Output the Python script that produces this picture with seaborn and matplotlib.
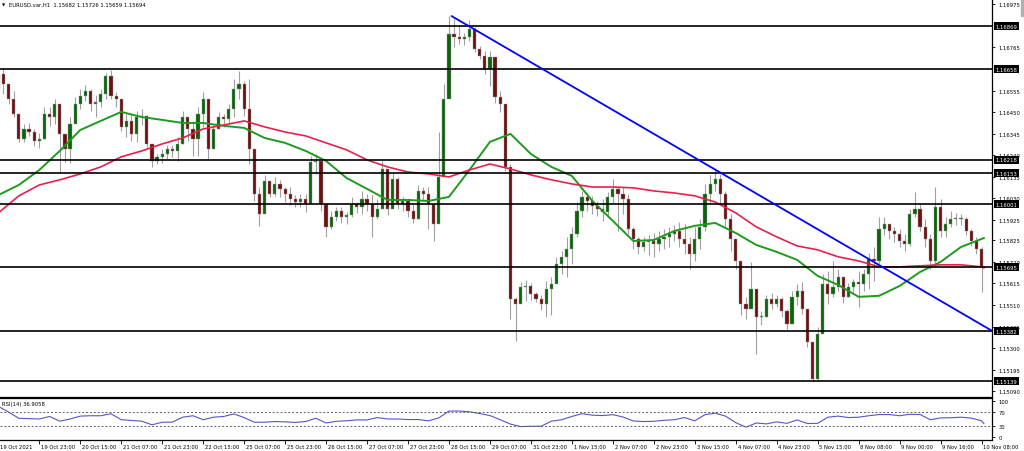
import numpy as np
import pandas as pd
import matplotlib
matplotlib.use("Agg")
import matplotlib.pyplot as plt
import matplotlib.transforms as mtransforms
from matplotlib.patches import Rectangle
import seaborn as sns

# ==========================================
# Data (EURUSD H1, drawn as 2-hour candles)
# ==========================================
first_open = 1.16563

closes = [
    1.16636, 1.16587, 1.16514, 1.16441, 1.16319, 1.16368, 1.16353, 1.16309, 1.16319, 1.16441,
    1.16426, 1.16490, 1.16344, 1.16270, 1.16392, 1.16490, 1.16529, 1.16553, 1.16490, 1.16499,
    1.16538, 1.16626, 1.16529, 1.16514, 1.16378, 1.16407, 1.16344, 1.16426, 1.16431, 1.16295,
    1.16212, 1.16232, 1.16246, 1.16270, 1.16261, 1.16295, 1.16426, 1.16368, 1.16319, 1.16441,
    1.16514, 1.16270, 1.16368, 1.16426, 1.16417, 1.16465, 1.16563, 1.16587, 1.16465, 1.16270,
    1.16051, 1.15954, 1.16115, 1.16051, 1.16100, 1.16076, 1.16051, 1.16027, 1.16012, 1.16027,
    1.16003, 1.16207, 1.16212, 1.16003, 1.15891, 1.15940, 1.15969, 1.15940, 1.15949, 1.16003,
    1.15988, 1.16027, 1.16003, 1.15940, 1.15978, 1.16173, 1.15978, 1.16125, 1.16003, 1.16017,
    1.15969, 1.15930, 1.16066, 1.16051, 1.16003, 1.15905, 1.16134, 1.16514, 1.16831, 1.16816,
    1.16806, 1.16816, 1.16855, 1.16758, 1.16725, 1.16660, 1.16719, 1.16524, 1.16490, 1.16183,
    1.15540, 1.15516, 1.15599, 1.15604, 1.15564, 1.15540, 1.15516, 1.15589, 1.15613, 1.15710,
    1.15745, 1.15784, 1.15857, 1.15969, 1.16037, 1.16017, 1.15993, 1.15978, 1.15964, 1.16037,
    1.16076, 1.16051, 1.16027, 1.15881, 1.15832, 1.15793, 1.15818, 1.15822, 1.15808, 1.15832,
    1.15842, 1.15857, 1.15871, 1.15832, 1.15808, 1.15759, 1.15832, 1.15891, 1.16051, 1.16100,
    1.16125, 1.16051, 1.15930, 1.15832, 1.15725, 1.15516, 1.15491, 1.15589, 1.15452, 1.15452,
    1.15540, 1.15516, 1.15540, 1.15481, 1.15418, 1.15550, 1.15579, 1.15491, 1.15331, 1.15151,
    1.15370, 1.15613, 1.15564, 1.15599, 1.15647, 1.15550, 1.15599, 1.15623, 1.15613, 1.15662,
    1.15735, 1.15725, 1.15881, 1.15905, 1.15871, 1.15857, 1.15822, 1.15808, 1.15954, 1.15978,
    1.15891, 1.15832, 1.15725, 1.15988, 1.15871, 1.15905, 1.15930, 1.15930, 1.15930, 1.15871,
    1.15822, 1.15784, 1.15694,
]

highs = [
    1.16670, 1.16660, 1.16587, 1.16553, 1.16441, 1.16392, 1.16397, 1.16368, 1.16348, 1.16475,
    1.16475, 1.16514, 1.16456, 1.16334, 1.16426, 1.16524, 1.16563, 1.16582, 1.16563, 1.16533,
    1.16563, 1.16641, 1.16655, 1.16548, 1.16514, 1.16441, 1.16441, 1.16456, 1.16465, 1.16436,
    1.16295, 1.16246, 1.16270, 1.16290, 1.16290, 1.16329, 1.16456, 1.16417, 1.16407, 1.16475,
    1.16548, 1.16514, 1.16387, 1.16451, 1.16441, 1.16490, 1.16611, 1.16650, 1.16602, 1.16611,
    1.16270, 1.16085, 1.16144, 1.16115, 1.16134, 1.16120, 1.16085, 1.16085, 1.16046, 1.16051,
    1.16051, 1.16237, 1.16246, 1.16197, 1.15988, 1.15969, 1.15988, 1.15988, 1.15964, 1.16037,
    1.16012, 1.16066, 1.16051, 1.16046, 1.16027, 1.16212, 1.16173, 1.16153, 1.16134, 1.16037,
    1.16032, 1.16003, 1.16095, 1.16085, 1.16085, 1.16003, 1.16353, 1.16587, 1.16918, 1.16904,
    1.16874, 1.16835, 1.16899, 1.16865, 1.16772, 1.16748, 1.16748, 1.16709, 1.16553, 1.16475,
    1.16197, 1.15550, 1.15623, 1.15633, 1.15618, 1.15574, 1.15560, 1.15628, 1.15647, 1.15745,
    1.15774, 1.15842, 1.15891, 1.16012, 1.16066, 1.16061, 1.16042, 1.16017, 1.16027, 1.16061,
    1.16125, 1.16085, 1.16085, 1.16051, 1.15891, 1.15842, 1.15842, 1.15852, 1.15861, 1.15871,
    1.15881, 1.15891, 1.15900, 1.15915, 1.15905, 1.15842, 1.15891, 1.15930, 1.16100, 1.16144,
    1.16173, 1.16149, 1.16066, 1.15954, 1.15793, 1.15725, 1.15550, 1.15720, 1.15589, 1.15481,
    1.15560, 1.15569, 1.15560, 1.15550, 1.15491, 1.15579, 1.15613, 1.15623, 1.15491, 1.15331,
    1.15404, 1.15662, 1.15676, 1.15725, 1.15686, 1.15637, 1.15618, 1.15637, 1.15676, 1.15686,
    1.15764, 1.15793, 1.15940, 1.15940, 1.15905, 1.15891, 1.15881, 1.15857, 1.15978, 1.16061,
    1.16003, 1.15930, 1.15857, 1.16085, 1.16027, 1.15940, 1.15969, 1.15959, 1.15954, 1.15940,
    1.15881, 1.15842, 1.15793,
]

lows = [
    1.16529, 1.16538, 1.16490, 1.16426, 1.16305, 1.16305, 1.16334, 1.16285, 1.16275, 1.16319,
    1.16383, 1.16392, 1.16158, 1.16207, 1.16202, 1.16407, 1.16465, 1.16504, 1.16456, 1.16426,
    1.16475, 1.16514, 1.16514, 1.16475, 1.16358, 1.16329, 1.16309, 1.16305, 1.16387, 1.16280,
    1.16183, 1.16197, 1.16202, 1.16222, 1.16232, 1.16212, 1.16295, 1.16309, 1.16237, 1.16237,
    1.16378, 1.16222, 1.16309, 1.16368, 1.16378, 1.16392, 1.16426, 1.16514, 1.16431, 1.16197,
    1.16017, 1.15896, 1.16037, 1.16037, 1.16042, 1.16037, 1.16012, 1.15998, 1.15988, 1.15988,
    1.15964, 1.16027, 1.16149, 1.15969, 1.15842, 1.15881, 1.15920, 1.15910, 1.15905, 1.15940,
    1.15959, 1.15954, 1.15969, 1.15842, 1.15930, 1.15988, 1.15949, 1.15988, 1.15978, 1.15969,
    1.15940, 1.15910, 1.15930, 1.16017, 1.15881, 1.15822, 1.15920, 1.16246, 1.16553, 1.16767,
    1.16782, 1.16777, 1.16797, 1.16743, 1.16709, 1.16636, 1.16577, 1.16495, 1.16451, 1.16163,
    1.15443, 1.15335, 1.15530, 1.15530, 1.15535, 1.15525, 1.15486, 1.15452, 1.15462, 1.15623,
    1.15662, 1.15647, 1.15710, 1.15842, 1.15940, 1.15969, 1.15954, 1.15944, 1.15920, 1.15940,
    1.16003, 1.15871, 1.15954, 1.15857, 1.15784, 1.15759, 1.15774, 1.15754, 1.15745, 1.15774,
    1.15784, 1.15793, 1.15822, 1.15793, 1.15759, 1.15686, 1.15725, 1.15784, 1.15871, 1.16003,
    1.16066, 1.16003, 1.15891, 1.15774, 1.15686, 1.15462, 1.15443, 1.15516, 1.15272, 1.15413,
    1.15452, 1.15491, 1.15501, 1.15452, 1.15394, 1.15452, 1.15511, 1.15467, 1.15306, 1.15134,
    1.15139, 1.15384, 1.15516, 1.15550, 1.15579, 1.15521, 1.15550, 1.15574, 1.15501, 1.15579,
    1.15589, 1.15628, 1.15710, 1.15852, 1.15832, 1.15818, 1.15793, 1.15774, 1.15798, 1.15940,
    1.15871, 1.15793, 1.15686, 1.15696, 1.15842, 1.15842, 1.15891, 1.15900, 1.15900, 1.15852,
    1.15798, 1.15759, 1.15574,
]

# moving averages, read every 8 hourly bars (+ last bar)
ma_bars = list(range(0, 385, 8)) + [385]
ma_green = [
    1.16046, 1.16095, 1.16168, 1.16261, 1.16363, 1.16407, 1.16451, 1.16426, 1.16412, 1.16397,
    1.16397, 1.16383, 1.16373, 1.16324, 1.16300, 1.16261, 1.16212, 1.16129, 1.16076, 1.16022,
    1.16022, 1.16017, 1.16037, 1.16168, 1.16305, 1.16344, 1.16246, 1.16183, 1.16139, 1.16017,
    1.15920, 1.15822, 1.15827, 1.15871, 1.15896, 1.15910, 1.15861, 1.15803, 1.15769, 1.15730,
    1.15652, 1.15608, 1.15550, 1.15555, 1.15603, 1.15671, 1.15720, 1.15793, 1.15832, 1.15837,
]
ma_red = [
    1.15959, 1.16042, 1.16095, 1.16120, 1.16149, 1.16183, 1.16232, 1.16261, 1.16295, 1.16324,
    1.16368, 1.16387, 1.16407, 1.16378, 1.16353, 1.16334, 1.16300, 1.16266, 1.16217, 1.16183,
    1.16158, 1.16149, 1.16134, 1.16168, 1.16197, 1.16173, 1.16144, 1.16120, 1.16100, 1.16085,
    1.16085, 1.16081, 1.16066, 1.16056, 1.16042, 1.16012, 1.15959, 1.15891, 1.15842, 1.15798,
    1.15779, 1.15745, 1.15725, 1.15696, 1.15696, 1.15701, 1.15706, 1.15706, 1.15696, 1.15691,
]

# RSI(14), read every 4 hourly bars (+ last bar)
rsi_bars = list(range(0, 385, 4)) + [385]
rsi_values = [
    85, 69, 52, 51, 50, 57, 44, 50, 58, 59,
    59, 64.5, 48, 46, 44, 34, 41, 41.5, 55, 59,
    48, 55, 57, 64, 54, 41, 41.3, 43, 42, 40.5,
    43, 52, 39, 43.6, 45, 47.5, 47.4, 54, 50, 50,
    48.5, 48.5, 45, 53, 72, 72, 70, 65, 59.5, 48,
    36, 29, 30, 30, 44, 48, 57, 64.7, 60.5, 59.5,
    62, 55.5, 44.5, 43, 43.6, 46.5, 48, 54, 45, 62,
    66, 58, 40, 27.5, 39, 36.5, 42, 38, 47.4, 37.5,
    38, 55, 58, 54, 55, 59, 62.3, 62.3, 59, 63,
    62.5, 48, 53, 53.5, 55, 52.5, 45, 36.9,
]

# horizontal support / resistance levels
levels = [1.16869, 1.16658, 1.16218, 1.16153, 1.16001, 1.15695, 1.15382, 1.15139]

# price axis ticks
price_ticks = [1.16975, 1.16765, 1.16555, 1.16450, 1.16345, 1.16240, 1.16135, 1.16030,
               1.15925, 1.15825, 1.15720, 1.15615, 1.15510, 1.15405, 1.15300, 1.15195, 1.15090]

# trendline: (hourly bar, price) of the 28 Oct high and a later point on it
trend_start = (177, 1.16918)
trend_through = (313, 1.15930)

time_labels = ["19 Oct 2021", "19 Oct 23:00", "20 Oct 15:00", "21 Oct 07:00", "21 Oct 23:00",
               "22 Oct 15:00", "25 Oct 07:00", "25 Oct 23:00", "26 Oct 15:00", "27 Oct 07:00",
               "27 Oct 23:00", "28 Oct 15:00", "29 Oct 07:00", "31 Oct 23:00", "1 Nov 15:00",
               "2 Nov 07:00", "2 Nov 23:00", "3 Nov 15:00", "4 Nov 07:00", "4 Nov 23:00",
               "5 Nov 15:00", "8 Nov 08:00", "9 Nov 00:00", "9 Nov 16:00", "10 Nov 08:00"]
time_bars = list(range(0, 385, 16))

# ==========================================
# Figure setup
# ==========================================
sns.set_theme(style="white")
plt.rcParams["font.family"] = ["DejaVu Sans"]
FS = 3.8

fig = plt.figure(figsize=(10.24, 4.52), dpi=100)
W, H = 1024, 452
ax = fig.add_axes([0, 54 / H, 992 / W, 398 / H])
ax_rsi = fig.add_axes([0, 11 / H, 992 / W, 42 / H], sharex=ax)

XMIN, XMAX = 0.645, 388.1

# ==========================================
# Candles
# ==========================================
df = pd.DataFrame({"close": closes, "high": highs, "low": lows})
df["open"] = [first_open] + closes[:-1]
df["x"] = np.arange(len(df)) * 2
df["up"] = df["close"] >= df["open"]
body = (df["close"] - df["open"]).abs().clip(lower=0.00003)
bottom = df[["open", "close"]].min(axis=1)

ax.vlines(df["x"], df["low"], df["high"], color="#a0a0a0", lw=0.8, zorder=2)
for is_up, col in [(True, "#0a640a"), (False, "#6e1010")]:
    m = df["up"] == is_up
    ax.bar(df["x"][m], body[m], bottom=bottom[m], width=1.25, color=col,
           edgecolor="#9a9a9a", linewidth=0.3, zorder=3)

# moving averages
sns.lineplot(x=ma_bars, y=ma_green, ax=ax, color="#1f9a1f", lw=1.4, zorder=4)
sns.lineplot(x=ma_bars, y=ma_red, ax=ax, color="#e8204c", lw=1.2, zorder=4)

# horizontal levels
for lvl in levels:
    ax.axhline(lvl, color="black", lw=1.2, zorder=5)

# trendline (ray to the right edge)
slope = (trend_through[1] - trend_start[1]) / (trend_through[0] - trend_start[0])
tx = [trend_start[0], XMAX]
ty = [trend_start[1], trend_start[1] + slope * (XMAX - trend_start[0])]
ax.plot(tx, ty, color="#0000ff", lw=1.3, zorder=6)

ax.set_xlim(XMIN, XMAX)
ax.set_ylim(1.15062, 1.17001)

# price axis on the right
ax.yaxis.tick_right()
ax.set_yticks(price_ticks)
ax.set_yticklabels([f"{p:.5f}" for p in price_ticks])
ax.tick_params(axis="y", which="both", right=True, length=2.5, width=0.6, pad=2,
               labelsize=FS, colors="black")
ax.tick_params(axis="x", bottom=False, labelbottom=False)
for side in ["left", "top"]:
    ax.spines[side].set_visible(False)
for side in ["right", "bottom"]:
    ax.spines[side].set_color("black")
    ax.spines[side].set_linewidth(0.9)

trans = mtransforms.blended_transform_factory(ax.transAxes, ax.transData)
for lvl in levels:
    ax.text(1.0035, lvl, f"{lvl:.5f}", transform=trans, ha="left", va="center",
            fontsize=FS, color="white", clip_on=False, zorder=10,
            bbox=dict(boxstyle="square,pad=0.3", fc="black", ec="none"))

# ==========================================
# RSI panel
# ==========================================
sns.lineplot(x=rsi_bars, y=rsi_values, ax=ax_rsi, color="#5555cc", lw=0.8)
for lvl in [70, 30]:
    ax_rsi.axhline(lvl, color="#606060", lw=0.7, linestyle=(0, (2, 2)))
ax_rsi.set_ylim(-8, 108)
ax_rsi.yaxis.tick_right()
ax_rsi.set_yticks([0, 30, 70, 100])
ax_rsi.set_yticklabels(["0", "30", "70", "100"])
ax_rsi.tick_params(axis="y", right=True, length=2.5, width=0.6, pad=2,
                   labelsize=FS, colors="black")
ax_rsi.set_xticks(time_bars)
ax_rsi.set_xticklabels([""] * len(time_bars))
ax_rsi.tick_params(axis="x", bottom=True, length=3, width=0.6, colors="black")
ax_rsi.spines["left"].set_visible(False)
for side in ["right", "bottom", "top"]:
    ax_rsi.spines[side].set_color("black")
    ax_rsi.spines[side].set_linewidth(0.9)
ax_rsi.set_xlim(XMIN, XMAX)
ax_rsi.set_xlabel("")
ax_rsi.set_ylabel("")
ax.set_xlabel("")
ax.set_ylabel("")

ax_rsi.text(0.002, 0.87, "RSI(14) 36.9058", transform=ax_rsi.transAxes,
            ha="left", va="center", fontsize=FS, color="black")

# time labels
ttrans = mtransforms.blended_transform_factory(ax_rsi.transData, fig.transFigure)
for b, lab in zip(time_bars, time_labels):
    ax_rsi.text(b + 0.7, 1 - 448 / H, lab, transform=ttrans, ha="left", va="center",
                fontsize=FS, color="black", clip_on=False)

# title
fig.text(2 / W, 1 - 5.5 / H, "\u25bc", fontsize=3, ha="left", va="center", color="black")
fig.text(9 / W, 1 - 5.5 / H, "EURUSD.var,H1  1.15682 1.15726 1.15659 1.15694",
         fontsize=FS, ha="left", va="center", color="black")

# scrollbar stub at top right
fig.patches.append(Rectangle((1021 / W, 1 - 17 / H), 3 / W, 17 / H,
                             transform=fig.transFigure, color="#b0b0b0"))

fig.savefig("out.png", dpi=100, facecolor="white")
